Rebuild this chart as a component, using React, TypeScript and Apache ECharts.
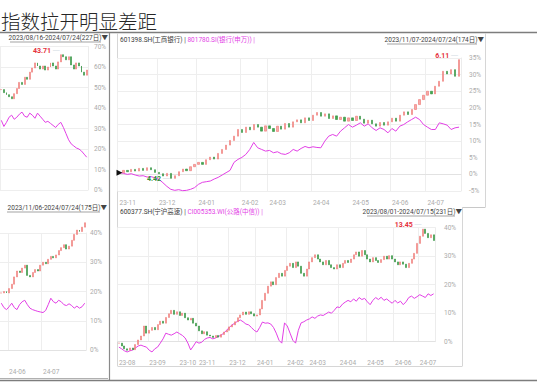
import React, { useEffect, useRef } from 'react';
import * as echarts from 'echarts';

const TITLE = '指数拉开明显差距';

// ---------- top-left panel (cut off at the left) ----------
const tlRangeText = '2023/08/16-2024/07/24(227日)▼';
const tlStock = [49.0,47.5,46.5,45.5,44.5,47.0,49.5,52.5,51.5,55.0,54.0,57.5,59.5,62.0,60.5,59.0,60.5,58.5,60.0,62.0,60.5,59.0,62.5,66.0,65.0,63.5,65.0,61.0,59.0,62.0,60.5,57.5,56.0,58.5];
const tlIndex = [34.0,31.0,33.0,35.5,36.5,34.5,35.5,37.0,38.0,36.0,35.5,37.5,36.5,35.0,37.5,36.0,34.5,33.0,33.5,32.5,31.5,30.5,32.0,33.0,30.5,27.5,24.5,22.5,21.5,20.5,20.0,19.0,17.5,16.0];
const tlTicks: [number, string][] = [[11, '']];
const tlMaxPrice = '43.71';

// ---------- bottom-left panel (cut off at the left) ----------
const blRangeText = '2023/11/06-2024/07/24(175日)▼';
const blStock = [19.5,20.0,19.5,21.0,22.5,25.0,27.0,26.5,28.0,29.0,25.5,25.0,26.5,27.5,27.0,29.0,30.0,29.5,31.0,32.0,31.5,32.5,34.0,35.0,36.0,34.5,35.5,37.5,39.5,41.0,40.5,42.0,43.5];
const blIndex = [16.0,14.5,13.8,14.8,16.0,14.5,13.8,15.5,16.5,17.0,15.5,14.3,13.8,13.5,13.2,13.0,12.8,13.5,15.5,17.7,16.5,16.0,17.0,16.5,15.5,15.2,15.8,15.2,14.3,15.0,14.3,14.8,16.0];
const blTicks: [number, string][] = [[3, '24-06'], [16, '24-07']];
const blMaxPrice = '31.19';

// ---------- top-right panel: 601398.SH vs 801780.SI ----------
const trStockName = '601398.SH(工商银行)';
const trIndexName = '801780.SI(银行(申万)) |';
const trRangeText = '2023/11/07-2024/07/24(174日)▼';
const trStock = [0.5,1.2,0.8,1.5,1.0,1.8,1.2,2.0,1.4,0.6,
  0.2,-0.5,0.3,-1.2,-0.4,0.8,1.6,1.1,2.3,3.0,
  3.6,3.0,4.4,5.2,4.6,6.3,7.5,8.8,10.2,11.5,
  13.5,12.6,14.2,13.4,15.0,14.2,13.0,14.6,
  13.8,12.9,14.5,13.6,15.3,14.2,15.8,16.4,15.5,17.0,
  16.2,17.8,18.6,17.5,18.2,16.8,17.6,16.5,17.2,16.0,
  17.0,16.2,17.5,16.6,15.4,16.3,15.2,14.5,15.6,14.8,
  15.8,16.9,16.0,17.8,18.8,18.0,19.5,21.0,22.5,
  23.8,25.0,24.2,26.5,28.0,31.0,30.2,31.5,29.5,34.5];
const trIndex = [0.6,0.3,0.0,0.2,-0.2,-0.5,-0.4,-0.8,-0.7,-1.0,
  -1.5,-2.5,-3.6,-4.5,-4.8,-4.6,-4.9,-4.8,-4.5,-4.0,
  -3.0,-2.4,-2.2,-2.0,-1.4,-0.9,-0.2,0.5,1.2,3.6,
  4.5,5.1,6.0,7.5,9.6,8.0,7.5,7.0,7.2,6.5,
  6.8,6.2,6.0,6.5,7.5,7.0,7.8,8.4,8.0,8.3,
  8.1,8.0,10.0,11.5,12.0,11.5,13.0,14.0,15.0,14.2,
  14.8,15.5,14.5,15.2,14.0,13.2,14.0,13.5,12.5,13.8,
  13.0,14.5,15.0,15.8,16.5,17.2,16.5,15.0,14.2,13.5,
  13.5,15.5,15.2,14.8,13.5,14.0,14.2];
const trTicks: [number, string][] = [[0, '23-11'], [10, '23-12'], [20, '24-01'], [31, '24-02'], [38, '24-03'], [49, '24-04'], [59, '24-05'], [69, '24-06'], [78, '24-07']];
const trMaxPrice = '6.11';
const trMinPrice = '4.42';

// ---------- bottom-right panel: 600377.SH vs CI005353.WI ----------
const brStockName = '600377.SH(宁沪高速)';
const brIndexName = 'CI005353.WI(公路(中信)) |';
const brRangeText = '2023/08/01-2024/07/15(231日)▼';
const brStock = [-0.5,-1.5,-2.5,-3.0,-2.2,-2.8,-1.0,0.6,2.0,5.5,
  3.0,4.0,5.0,4.2,6.0,7.2,6.5,8.5,9.8,11.0,
  9.6,10.5,9.2,10.0,8.4,7.6,8.2,6.5,5.5,3.8,
  2.8,3.5,2.3,2.0,1.5,2.2,1.6,2.5,3.4,4.0,
  5.2,5.9,7.0,8.4,9.4,10.4,9.6,10.5,9.8,9.0,
  9.4,11.5,14.5,17.0,19.5,21.0,20.0,22.5,24.0,23.0,
  25.0,26.5,27.5,26.0,28.0,26.5,24.0,23.0,25.5,28.0,
  29.5,30.5,29.0,28.0,27.0,28.5,27.0,26.0,25.5,27.0,
  26.0,27.5,28.5,27.8,29.0,30.5,31.5,30.0,32.0,30.5,
  29.0,28.0,29.5,28.5,27.8,28.8,30.0,29.0,30.2,29.0,
  28.0,27.0,28.0,27.2,26.0,27.5,29.0,31.0,34.5,37.0,
  39.5,38.0,36.5,37.5,35.5];
const brIndex = [-1.9,-2.5,-3.2,-3.6,-3.2,-2.9,-2.2,-1.5,-1.2,-1.6,
  -1.9,-3.0,-3.6,-2.5,-1.9,-0.5,1.0,3.0,2.6,2.3,
  2.8,3.4,2.8,2.2,1.3,-0.5,-2.9,-1.5,0.0,-0.5,
  -0.2,0.8,1.3,1.5,1.0,1.3,1.8,2.3,3.0,4.0,
  5.0,5.9,6.5,7.2,7.6,7.0,6.2,5.9,5.0,4.0,
  3.4,5.0,6.9,6.5,6.6,6.2,5.0,3.0,0.5,-0.5,
  6.6,5.5,3.0,0.5,-0.5,4.0,6.6,7.0,7.6,8.0,
  8.7,8.2,9.0,9.4,9.2,9.8,10.4,10.0,11.0,12.2,
  12.0,13.2,13.9,14.5,14.0,15.0,14.2,15.5,14.8,15.2,
  14.0,13.0,14.5,15.5,14.8,15.6,14.5,15.0,14.2,13.5,
  14.5,13.6,14.2,13.0,14.0,15.5,16.0,15.2,15.8,16.5,
  16.0,15.5,16.8,16.2,16.8];
const brTicks: [number, string][] = [[0, '23-08'], [11, '23-09'], [22, '23-10'], [29, '23-11'], [40, '23-12'], [50, '24-01'], [61, '24-02'], [69, '24-03'], [80, '24-04'], [90, '24-05'], [100, '24-06'], [109, '24-07']];
const brMaxPrice = '13.45';
const brMinPrice = '9.14';

// ---------- styling ----------
const FONT = 'Roboto, "Noto Sans CJK SC", sans-serif';
const UP = '#f6a9a7';
const UP_B = '#ee7471';
const DN = '#43a84f';
const DN_B = '#2f8e3c';
const MAG = '#e33fe6';
const AX_TXT = '#ababab';
const GRID_LINE = '#eeeeee';

function buildOhlc(closes: number[]) {
  return closes.map((c, i) => {
    const o = i === 0 ? c : closes[i - 1];
    return [o, c, Math.min(o, c), Math.max(o, c)];
  });
}

function argMax(a: number[]) { let k = 0; a.forEach((v, i) => { if (v > a[k]) k = i; }); return k; }
function argMin(a: number[]) { let k = 0; a.forEach((v, i) => { if (v < a[k]) k = i; }); return k; }

interface PanelCfg {
  g: number;
  stock: number[];
  index: number[];
  ticks: [number, string][];
  grid: { left: number; right: number; top: number; bottom: number };
  yMin: number; yMax: number; yStep: number;
  xOffset: number;
  showXLabels: boolean;
  yMargin: number;
  barWidth: string;
  maxPrice: string;
  maxSide: 'left' | 'right';
  minPrice?: string;
  minSide?: 'left' | 'right';
  minOffset?: number[];
  startMarker: boolean;
}

function buildPanel(c: PanelCfg) {
  const tickMap = new Map<number, string>(c.ticks);
  const cats = c.stock.map((_, i) => String(i));
  const isTick = (i: number) => tickMap.has(i);
  const xAxis = {
    type: 'category', gridIndex: c.g, data: cats, boundaryGap: true, offset: c.xOffset,
    axisLine: { show: c.showXLabels, lineStyle: { color: '#e2e2e2' } },
    axisTick: { show: false },
    axisLabel: {
      show: c.showXLabels, interval: (i: number) => isTick(i), align: 'left', margin: 3,
      formatter: (_v: string, i: number) => tickMap.get(i) ?? '',
      color: AX_TXT, fontSize: 6.5, fontFamily: FONT,
    },
    splitLine: { show: true, interval: (i: number) => isTick(i), lineStyle: { color: GRID_LINE, width: 1 } },
  };
  const yAxis = {
    type: 'value', gridIndex: c.g, position: 'right', min: c.yMin, max: c.yMax, interval: c.yStep,
    axisLine: { show: true, lineStyle: { color: '#ececec' } },
    axisTick: { show: false },
    axisLabel: { formatter: '{value}%', color: AX_TXT, fontSize: 6.5, fontFamily: FONT, margin: c.yMargin },
    splitLine: { show: true, lineStyle: { color: GRID_LINE, width: 1 } },
  };
  const mi = argMax(c.stock);
  const mp: any[] = [
    {
      coord: [mi, c.stock[mi]], symbolSize: 0,
      label: {
        show: true, position: c.maxSide, distance: 1, offset: [0, -4],
        formatter: c.maxSide === 'left' ? `{p|${c.maxPrice}}{l| ─}` : `{l|─ }{p|${c.maxPrice}}`,
        rich: {
          p: { color: '#e5323c', fontSize: 7, fontWeight: 'bold', fontFamily: FONT },
          l: { color: '#9fb4c8', fontSize: 7, fontFamily: FONT },
        },
      },
    },
  ];
  if (c.minPrice) {
    const ni = argMin(c.stock);
    mp.push({
      coord: [ni, c.stock[ni]], symbolSize: 0,
      label: {
        show: true, position: c.minSide, distance: 1, offset: c.minOffset ?? [0, 0],
        formatter: c.minSide === 'left' ? `{p|${c.minPrice}}{l| ─}` : `{l|─ }{p|${c.minPrice}}`,
        rich: {
          p: { color: '#2f8e3c', fontSize: 7, fontWeight: 'bold', fontFamily: FONT },
          l: { color: '#9fb4c8', fontSize: 7, fontFamily: FONT },
        },
      },
    });
  }
  if (c.startMarker) {
    mp.push({
      coord: [0, c.stock[0]], symbol: 'triangle', symbolSize: [6, 6], symbolRotate: -90,
      itemStyle: { color: '#111' }, label: { show: false },
    });
  }
  const series = [
    {
      type: 'line', xAxisIndex: c.g, yAxisIndex: c.g, data: c.index, symbol: 'none', clip: false,
      lineStyle: { color: MAG, width: 1 }, silent: true, z: 2,
    },
    {
      type: 'candlestick', xAxisIndex: c.g, yAxisIndex: c.g, data: buildOhlc(c.stock), clip: false,
      barWidth: c.barWidth, silent: true, z: 3,
      itemStyle: { color: UP, color0: DN, borderColor: UP_B, borderColor0: DN_B, borderWidth: 0.6 },
      markPoint: { silent: true, symbol: 'circle', data: mp },
    },
  ];
  return { grid: { ...c.grid, containLabel: false, outerBoundsMode: 'none' }, xAxis, yAxis, series };
}

const panels = [
  buildPanel({ g: 0, stock: tlStock, index: tlIndex, ticks: tlTicks, grid: { left: 0, right: 449, top: 46.5, bottom: 201 },
    yMin: 0, yMax: 70, yStep: 10, xOffset: 0, showXLabels: false, yMargin: 6, barWidth: '55%', maxPrice: tlMaxPrice, maxSide: 'left', startMarker: false }),
  buildPanel({ g: 1, stock: blStock, index: blIndex, ticks: blTicks, grid: { left: 0, right: 451, top: 233, bottom: 41 },
    yMin: 0, yMax: 40, yStep: 10, xOffset: 16, showXLabels: true, yMargin: 4, barWidth: '55%', maxPrice: blMaxPrice, maxSide: 'left', startMarker: false }),
  buildPanel({ g: 2, stock: trStock, index: trIndex, ticks: trTicks, grid: { left: 117.5, right: 76, top: 58, bottom: 200 },
    yMin: -5, yMax: 35, yStep: 5, xOffset: 6, showXLabels: true, yMargin: 8, barWidth: '45%', maxPrice: trMaxPrice, maxSide: 'left',
    minPrice: trMinPrice, minSide: 'left', minOffset: [0, 1], startMarker: true }),
  buildPanel({ g: 3, stock: brStock, index: brIndex, ticks: brTicks, grid: { left: 117.5, right: 102, top: 227.7, bottom: 49.3 },
    yMin: 0, yMax: 40, yStep: 10, xOffset: 15, showXLabels: true, yMargin: 9, barWidth: '55%', maxPrice: brMaxPrice, maxSide: 'left',
    minPrice: brMinPrice, minSide: 'right', minOffset: [0, 4], startMarker: true }),
];

function hLine(x1: number, x2: number, y: number, stroke: string, w = 1) {
  return { type: 'line', silent: true, shape: { x1, y1: y, x2, y2: y }, style: { stroke, lineWidth: w } };
}
function vLine(x: number, y1: number, y2: number, stroke: string, w = 1) {
  return { type: 'line', silent: true, shape: { x1: x, y1, x2: x, y2 }, style: { stroke, lineWidth: w } };
}
function txt(x: number, y: number, text: string, opts: any = {}) {
  return {
    type: 'text', silent: true, x, y,
    style: { text, fill: '#3a3a3a', fontSize: 6.5, fontFamily: FONT, verticalAlign: 'middle', align: 'left', ...opts },
  };
}
function header(x: number, y: number, a: string, b: string) {
  return {
    type: 'text', silent: true, x, y,
    style: {
      text: `{a|${a}}{a| | }{b|${b}}`, verticalAlign: 'middle', align: 'left',
      rich: {
        a: { fill: '#3a3a3a', color: '#3a3a3a', fontSize: 6.5, fontFamily: FONT },
        b: { fill: MAG, color: MAG, fontSize: 6.5, fontFamily: FONT },
      },
    },
  };
}

const graphics: any[] = [
  { type: 'text', silent: true, x: 1, y: 20, style: { text: TITLE, fill: '#262626', fontSize: 19.5, fontWeight: 300, fontFamily: '"Noto Sans CJK SC", serif', verticalAlign: 'middle', align: 'left' } },
  hLine(0, 537, 32.5, '#7d7d7d', 1.5),
  vLine(109.5, 33, 380, '#8a8a8a', 1.2),
  // top-right box
  vLine(117.5, 33, 207, '#d6d6d6'),
  vLine(485.5, 33, 207, '#d6d6d6'),
  hLine(462, 485.5, 207.5, '#c8c8c8'),
  // bottom-right box
  vLine(117.5, 207, 366, '#d6d6d6'),
  vLine(462.5, 207, 366, '#d6d6d6'),
  hLine(117.5, 462.5, 366.5, '#d6d6d6'),
  // bottom-left box
  hLine(0, 108, 378.5, '#b0b0b0'),
  // bottom rule
  hLine(0, 537, 380.5, '#7d7d7d', 1.5),
  // headers
  txt(108, 38, tlRangeText, { align: 'right', fill: '#444' }),
  hLine(10, 101, 42, '#666', 0.6),
  txt(107, 208, blRangeText, { align: 'right', fill: '#444' }),
  hLine(7, 100, 212, '#666', 0.6),
  header(120, 40, trStockName, trIndexName),
  txt(484, 40, trRangeText, { align: 'right', fill: '#444' }),
  hLine(387, 477, 44, '#666', 0.6),
  header(120, 212, brStockName, brIndexName),
  txt(462, 212, brRangeText, { align: 'right', fill: '#444' }),
  hLine(367, 455, 216, '#666', 0.6),
];

export default function App() {
  const ref = useRef<HTMLDivElement>(null);
  useEffect(() => {
    if (!ref.current) return;
    const chart = echarts.init(ref.current, null, { renderer: 'svg' });
    chart.setOption({
      animation: false,
      backgroundColor: '#ffffff',
      grid: panels.map((p) => p.grid),
      xAxis: panels.map((p) => p.xAxis),
      yAxis: panels.map((p) => p.yAxis),
      series: panels.flatMap((p) => p.series),
      graphic: graphics,
    } as any);
    return () => chart.dispose();
  }, []);
  return (
    <div style={{ position: 'fixed', left: 0, top: 0, width: 537, height: 391, background: '#fff' }}>
      <div ref={ref} style={{ width: 537, height: 391 }} />
    </div>
  );
}
